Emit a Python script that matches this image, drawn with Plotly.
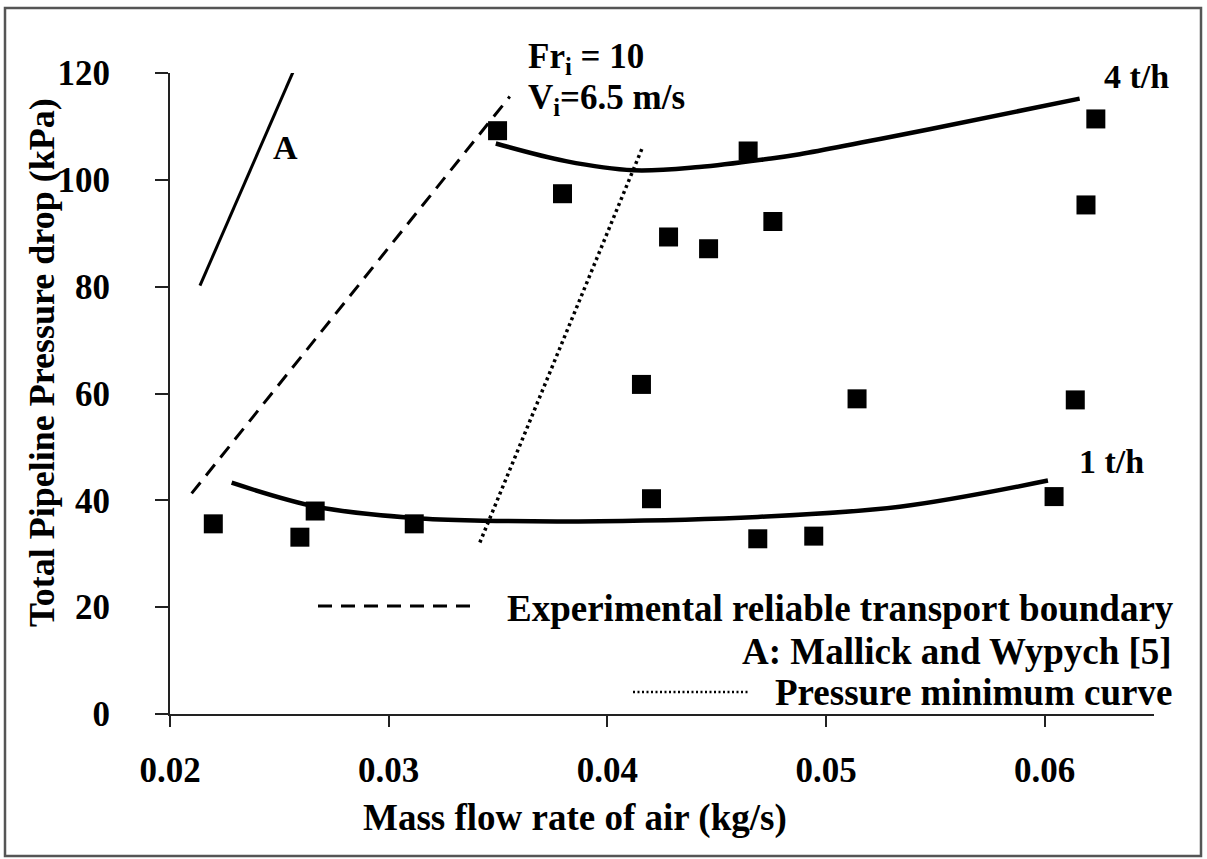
import plotly.graph_objects as go

# Measured pressure drop points (both solids rates)
air_flow = [0.02198, 0.02594, 0.02664, 0.03117, 0.03498, 0.03795, 0.04156, 0.04202,
            0.0428, 0.04463, 0.04644, 0.04688, 0.04757, 0.04944, 0.05142, 0.06043,
            0.0614, 0.06189, 0.06234]
pressure_drop = [35.6, 33.1, 38.0, 35.6, 109.2, 97.4, 61.7, 40.3,
                 89.3, 87.1, 105.4, 32.8, 92.2, 33.3, 59.0, 40.7,
                 58.8, 95.3, 111.4]

# Fitted trend for 4 t/h
fit4_x = [0.0349, 0.0381, 0.0412, 0.0442, 0.0473, 0.0488, 0.0549, 0.0616]
fit4_y = [106.8, 103.5, 101.8, 102.4, 103.9, 104.8, 109.6, 115.2]

# Fitted trend for 1 t/h
fit1_x = [0.02282, 0.0267, 0.03115, 0.03431, 0.03966, 0.04688, 0.05337, 0.06015]
fit1_y = [43.3, 38.8, 36.7, 36.2, 36.1, 36.9, 38.8, 43.7]

# Reliable transport boundary (experimental)
boundary_x = [0.02099, 0.03554]
boundary_y = [41.3, 115.6]

# Mallick and Wypych boundary (A)
mallick_x = [0.02137, 0.02567]
mallick_y = [80.2, 120.6]

# Pressure minimum curve
pmin_x = [0.03417, 0.0416]
pmin_y = [32.1, 106.0]

x_ticks = [0.02, 0.03, 0.04, 0.05, 0.06]
y_ticks = [0, 20, 40, 60, 80, 100, 120]

FONT = "Liberation Serif"
TICK_FS = 35

fig = go.Figure()

fig.add_trace(go.Scatter(x=fit4_x, y=fit4_y, mode="lines", line_shape="spline",
                         line=dict(color="black", width=4.5), showlegend=False))
fig.add_trace(go.Scatter(x=fit1_x, y=fit1_y, mode="lines", line_shape="spline",
                         line=dict(color="black", width=4.5), showlegend=False))
fig.add_trace(go.Scatter(x=boundary_x, y=boundary_y, mode="lines",
                         line=dict(color="black", width=3, dash="14px,9px"),
                         showlegend=False))
fig.add_trace(go.Scatter(x=mallick_x, y=mallick_y, mode="lines",
                         line=dict(color="black", width=3), showlegend=False))
fig.add_trace(go.Scatter(x=pmin_x, y=pmin_y, mode="lines",
                         line=dict(color="black", width=3.5, dash="3px,3.5px"),
                         showlegend=False))
fig.add_trace(go.Scatter(x=air_flow, y=pressure_drop, mode="markers",
                         marker=dict(symbol="square", size=19, color="black",
                                     line=dict(width=0)),
                         showlegend=False))

# plot area: x 170..1154, y 73..714 in a 1207x859 page
L, R, T, B = 170, 53, 73, 145
W, H = 1207, 859
PW, PH = W - L - R, H - T - B


def px(x):
    return (x - L) / PW


def py(y):
    return (H - B - y) / PH


def label(text, x, y, xanchor="left", size=35, angle=0):
    fig.add_annotation(text=text, x=px(x), y=py(y), xref="paper", yref="paper",
                       xanchor=xanchor, yanchor="middle", showarrow=False,
                       textangle=angle,
                       font=dict(family=FONT, size=size, color="black"))


label("<b>A</b>", 285, 147, "center", size=34)
label("<b>Fr<sub>i</sub> = 10</b>", 526, 58)
label("<b>V<sub>i</sub>=6.5 m/s</b>", 526, 100)
label("<b>4 t/h</b>", 1102, 77, size=34)
label("<b>1 t/h</b>", 1077, 461, size=34)

# legend block
label("<b>Experimental reliable transport boundary</b>", 1176, 608, "right", size=37)
label("<b>A: Mallick and Wypych [5]</b>", 1174, 651, "right", size=37)
label("<b>Pressure minimum curve</b>", 1174, 692, "right", size=37)
fig.add_shape(type="line", xref="paper", yref="paper",
              x0=px(318), x1=px(475), y0=py(606), y1=py(606),
              line=dict(color="black", width=3, dash="14px,9px"))
fig.add_shape(type="line", xref="paper", yref="paper",
              x0=px(633), x1=px(748), y0=py(692), y1=py(692),
              line=dict(color="black", width=2.5, dash="2px,2.5px"))

# axis titles
label("<b>Mass flow rate of air (kg/s)</b>", 575, 818, "center", size=37)
label("<b>Total Pipeline Pressure drop (kPa)</b>", 42, 363, "center", size=36, angle=-90)

# outer frame
fig.add_shape(type="rect", xref="paper", yref="paper",
              x0=px(5), x1=px(1201), y0=py(856), y1=py(8),
              line=dict(color="#555", width=2.5))

axis_common = dict(showgrid=False, zeroline=False, showline=True,
                   linecolor="#222", linewidth=2, ticks="outside",
                   tickcolor="#222", tickwidth=2,
                   tickfont=dict(family=FONT, size=TICK_FS, color="black"))

fig.update_xaxes(range=[0.02, 0.065], tickvals=x_ticks,
                 ticktext=[f"<b>{v:.2f}</b>" for v in x_ticks],
                 ticklen=11, ticklabelstandoff=13, **axis_common)
fig.update_yaxes(range=[0, 120], tickvals=y_ticks,
                 ticktext=[f"<b>{v}</b>" for v in y_ticks],
                 ticklen=13, ticklabelstandoff=38, **axis_common)

fig.update_layout(width=W, height=H, margin=dict(l=L, r=R, t=T, b=B),
                  paper_bgcolor="white", plot_bgcolor="white",
                  font=dict(family=FONT, color="black"))

fig.write_html("out.html")
